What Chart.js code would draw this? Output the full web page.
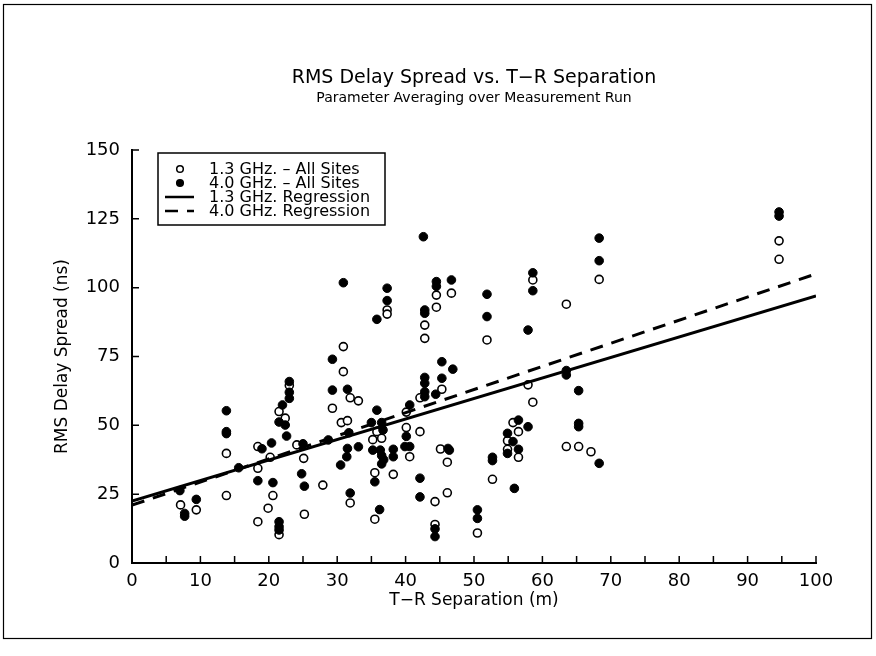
<!DOCTYPE html>
<html>
<head>
<meta charset="utf-8">
<script src="https://cdn.jsdelivr.net/npm/chart.js@4.4.0/dist/chart.umd.min.js"></script>
<style>
  html, body { margin: 0; padding: 0; background: #fff; }
  #wrap { width: 876px; height: 656px; }
</style>
</head>
<body>
<div id="wrap"><canvas id="myChart" width="876" height="656"></canvas></div>
<script>
// 1.3 GHz points [T-R separation (m), RMS delay spread (ns)]
var open_13 = [
    [7.1, 21.1], [9.4, 19.3], [13.8, 39.8], [13.8, 24.5], [18.4, 42.3], [20.2, 38.4], [18.4, 34.4],
    [20.6, 24.5], [19.9, 19.9], [18.4, 15], [21.5, 10.3], [21.5, 55], [22.4, 52.6], [23, 64.5],
    [24.1, 42.9], [25.1, 38], [25.2, 17.7], [27.9, 28.3], [30.9, 78.6], [30.9, 69.5], [29.3, 56.2],
    [30.6, 51], [31.5, 51.7], [31.9, 60], [33.1, 58.9], [35.8, 47.7], [35.2, 44.8], [36.5, 45.3],
    [35.5, 32.8], [35.5, 15.9], [31.9, 21.8], [37.3, 91.9], [37.3, 90.4], [38.2, 32.2], [40.1, 49.2],
    [40.1, 54.8], [40.6, 38.6], [42.1, 47.7], [42.1, 60], [42.8, 86.4], [42.8, 81.6], [44.5, 97.3],
    [44.5, 92.9], [46.7, 98], [45.3, 63.1], [45.1, 41.4], [46.1, 36.6], [46.1, 25.5], [44.3, 22.3],
    [44.3, 14], [50.5, 10.9], [51.9, 81], [52.7, 30.4], [55.7, 51], [56.5, 47.7], [54.9, 44.4],
    [54.9, 41.3], [56.5, 38.4], [57.9, 64.7], [58.6, 58.4], [58.6, 102.8], [63.5, 94], [63.5, 42.3],
    [65.3, 42.3], [67.1, 40.4], [68.3, 103], [94.6, 117], [94.6, 110.3]
];
// 4.0 GHz points
var filled_40 = [
    [7, 26.3], [7.7, 18], [7.7, 17], [9.4, 23.1], [13.8, 55.3], [13.8, 47.7], [13.8, 47], [15.6, 34.6],
    [19, 41.5], [20.4, 43.6], [18.4, 29.9], [20.6, 29.2], [21.5, 15], [21.5, 13.2], [21.5, 12],
    [22, 57.4], [21.5, 51.2], [22.4, 50.1], [22.6, 46.1], [23, 59.8], [23, 65.9], [23, 62],
    [25, 43.3], [24.8, 32.4], [25.2, 27.9], [28.7, 44.7], [29.3, 74], [29.3, 62.8], [31.5, 63.1],
    [30.9, 101.8], [31.5, 41.6], [31.4, 38.6], [30.5, 35.6], [33.1, 42.2], [31.7, 47.3], [31.9, 25.4],
    [35.8, 55.5], [35, 51], [36.5, 51], [36.7, 48.3], [35.2, 41], [36.3, 41], [36.5, 39], [36.8, 37.5],
    [36.5, 36], [35.5, 29.5], [36.2, 19.4], [35.8, 88.5], [37.3, 99.8], [37.3, 95.3], [38.2, 41.3],
    [38.2, 38.6], [40.1, 46], [39.9, 42.3], [40.6, 42.3], [40.6, 57.4], [42.1, 30.8], [42.1, 24],
    [42.8, 91.9], [42.8, 90.7], [42.6, 118.5], [42.8, 67.4], [42.8, 65.3], [42.8, 62.2], [42.8, 60.4],
    [44.4, 61.3], [44.5, 102.2], [44.5, 100.5], [46.7, 102.8], [45.3, 73.1], [46.9, 70.4], [45.3, 67.1],
    [46.2, 41.6], [46.4, 41], [44.3, 12.4], [44.3, 9.6], [50.5, 19.3], [50.5, 16.2], [51.9, 97.6],
    [51.9, 89.5], [52.7, 38.4], [52.7, 37.2], [55.9, 27.1], [54.9, 47.1], [55.7, 44.1], [54.9, 39.8],
    [56.5, 51.9], [56.5, 41.3], [57.9, 49.5], [57.9, 84.6], [58.6, 105.4], [58.6, 98.9], [63.5, 69.9],
    [63.5, 68.3], [65.3, 62.6], [65.3, 50.7], [65.3, 49.5], [68.3, 36.2], [68.3, 109.8], [68.3, 118],
    [94.6, 127.5], [94.6, 126]
];
// regression end points
var reg_x = [0, 100];
var reg_13 = [22.5, 97];
var reg_40 = [21, 105];

var chart_title = 'RMS Delay Spread vs. T\u2212R Separation';
var chart_subtitle = 'Parameter Averaging over Measurement Run';
var x_label = 'T\u2212R Separation (m)';
var y_label = 'RMS Delay Spread (ns)';
var FONT = "'DejaVu Sans', sans-serif";

function to_xy(pairs) {
    return pairs.map(p => ({ x: p[0], y: p[1] }));
}
function line_xy(ys) {
    return reg_x.map((x, i) => ({ x: x, y: ys[i] }));
}

// ticks pointing inward, titles, legend box, page frame
var decor = {
    id: 'decor',
    afterDraw(chart) {
        let ctx = chart.ctx;
        let xs = chart.scales.x, ys = chart.scales.y;
        let a = chart.chartArea;
        ctx.save();
        ctx.strokeStyle = '#000';
        ctx.lineWidth = 1.5;
        ctx.beginPath();
        xs.ticks.forEach(t => {
            let px = xs.getPixelForValue(t.value);
            ctx.moveTo(px, a.bottom);
            ctx.lineTo(px, a.bottom - 7);
        });
        ys.ticks.forEach(t => {
            let py = ys.getPixelForValue(t.value);
            ctx.moveTo(a.left, py);
            ctx.lineTo(a.left + 7, py);
        });
        ctx.stroke();

        // frame
        ctx.lineWidth = 1.2;
        ctx.strokeRect(3.5, 4.5, 868, 634);

        // titles
        ctx.fillStyle = '#000';
        ctx.textAlign = 'center';
        ctx.textBaseline = 'middle';
        let cx = (a.left + a.right) / 2;
        ctx.font = '19px ' + FONT;
        ctx.fillText(chart_title, cx, 78);
        ctx.font = '14px ' + FONT;
        ctx.fillText(chart_subtitle, cx, 98);

        // legend
        let bx = 158, by = 153, bw = 227, bh = 72;
        ctx.lineWidth = 1.5;
        ctx.strokeRect(bx, by, bw, bh);
        let rows = [169, 183, 197, 211];
        ctx.textAlign = 'left';
        ctx.font = '16px ' + FONT;
        chart.data.datasets.forEach((ds, i) => {
            let ry = rows[i];
            if (ds.type === 'scatter') {
                ctx.beginPath();
                ctx.arc(180, ry, 3.3, 0, Math.PI * 2);
                ctx.fillStyle = ds.backgroundColor;
                ctx.fill();
                ctx.lineWidth = 1.5;
                ctx.stroke();
            } else {
                ctx.beginPath();
                ctx.setLineDash(ds.borderDash || []);
                ctx.lineWidth = 2.5;
                ctx.moveTo(165, ry);
                ctx.lineTo(194, ry);
                ctx.stroke();
                ctx.setLineDash([]);
            }
            ctx.fillStyle = '#000';
            ctx.fillText(ds.label, 209, ry + 1);
        });
        ctx.restore();
    }
};

var ctx = document.getElementById('myChart');
var chart = new Chart(ctx, {
    data: {
        datasets: [
            {
                type: 'scatter',
                label: '1.3 GHz. \u2013 All Sites',
                data: to_xy(open_13),
                pointRadius: 4,
                pointBorderWidth: 1.6,
                borderColor: '#000',
                backgroundColor: '#fff',
                order: 2
            },
            {
                type: 'scatter',
                label: '4.0 GHz. \u2013 All Sites',
                data: to_xy(filled_40),
                pointRadius: 4.3,
                pointBorderWidth: 1,
                borderColor: '#000',
                backgroundColor: '#000',
                order: 1
            },
            {
                type: 'line',
                label: '1.3 GHz. Regression',
                data: line_xy(reg_13),
                borderColor: '#000',
                borderWidth: 3,
                pointRadius: 0,
                fill: false,
                order: 0
            },
            {
                type: 'line',
                label: '4.0 GHz. Regression',
                data: line_xy(reg_40),
                borderColor: '#000',
                borderWidth: 3,
                borderDash: [13, 9],
                pointRadius: 0,
                fill: false,
                order: 0
            }
        ]
    },
    options: {
        responsive: false,
        animation: false,
        layout: { padding: { top: 150, right: 60, bottom: 0, left: 0 } },
        plugins: {
            legend: { display: false },
            title: { display: false },
            tooltip: { enabled: false }
        },
        scales: {
            x: {
                type: 'linear',
                min: 0,
                max: 100,
                grid: { display: false, drawTicks: false },
                border: { display: true, color: '#000', width: 2 },
                ticks: {
                    stepSize: 5,
                    padding: 8,
                    color: '#000',
                    maxRotation: 0,
                    autoSkip: false,
                    font: { family: FONT, size: 18 },
                    callback: v => (v % 10 === 0 ? v : '')
                },
                title: {
                    display: true,
                    text: x_label,
                    color: '#000',
                    font: { family: FONT, size: 17 },
                    padding: { top: 0, bottom: 45 }
                },
                afterFit: s => { s.height = 93; }
            },
            y: {
                type: 'linear',
                min: 0,
                max: 150,
                grid: { display: false, drawTicks: false },
                border: { display: true, color: '#000', width: 2 },
                ticks: {
                    stepSize: 25,
                    padding: 12,
                    color: '#000',
                    font: { family: FONT, size: 18 }
                },
                title: {
                    display: true,
                    text: y_label,
                    color: '#000',
                    font: { family: FONT, size: 17 },
                    padding: { top: 52, bottom: 0 }
                },
                afterFit: s => { s.width = 132; }
            }
        }
    },
    plugins: [decor]
});
</script>
</body>
</html>
